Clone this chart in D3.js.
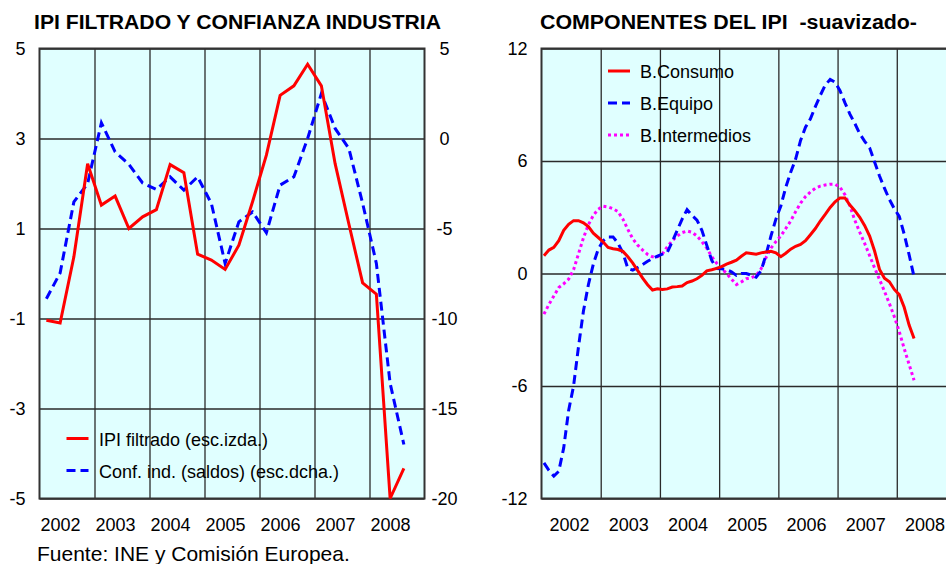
<!DOCTYPE html>
<html>
<head>
<meta charset="utf-8">
<script src="https://cdn.jsdelivr.net/npm/d3@7"></script>
<style>
  body { margin: 0; background: #fff; }
  svg { display: block; font-family: "Liberation Sans", Arial, sans-serif; }
  .tick line { stroke: #2a2a2a; stroke-width: 1.3; }
  .grid .domain { display: none; }
  .lbl .domain { display: none; }
  .lbl text { font-size: 18px; fill: #000; }
</style>
</head>
<body>
<div id="chart"></div>
<script>
// ---- data ----
var years = ["2002", "2003", "2004", "2005", "2006", "2007", "2008"];

// quarterly, 2002 Q1 .. 2008 Q3
var ipiFiltrado = [-1.04, -1.1, 0.37, 2.44, 1.52, 1.72, 1.0, 1.26, 1.42, 2.42, 2.24, 0.43, 0.3, 0.09,
                   0.63, 1.6, 2.63, 3.96, 4.17, 4.65, 4.17, 2.44, 1.1, -0.21, -0.46, -5.0, -4.33];
var confInd = [-8.9, -7.47, -3.52, -2.5, 0.87, -0.74, -1.43, -2.47, -2.83, -2.13, -2.87, -2.13, -3.61, -6.94,
               -4.63, -4.08, -5.24, -2.59, -2.13, 0.0, 2.5, 0.56, -0.56, -3.6, -6.94, -13.6, -17.0];

// monthly, Jan 2002 .. Apr 2008
var bConsumo = [0.95, 1.25, 1.39, 1.75, 2.3, 2.62, 2.82, 2.82, 2.7, 2.5, 2.15, 1.92,
                1.68, 1.39, 1.32, 1.28, 1.18, 0.89, 0.55, 0.15, -0.25, -0.6, -0.88, -0.82,
                -0.85, -0.82, -0.72, -0.7, -0.67, -0.48, -0.4, -0.28, -0.1, 0.14, 0.2, 0.27,
                0.37, 0.5, 0.6, 0.71, 0.92, 1.1, 1.07, 1.03, 1.1, 1.15, 1.18, 1.1,
                0.9, 1.08, 1.3, 1.45, 1.55, 1.75, 2.07, 2.4, 2.8, 3.15, 3.52, 3.82,
                4.03, 4.03, 3.65, 3.35, 3.0, 2.55, 2.0, 1.2, 0.22, -0.25, -0.44, -0.85,
                -1.13, -1.8, -2.75, -3.47];
var bEquipo = [-10.1, -10.5, -10.8, -10.55, -9.3, -7.3, -6.0, -3.9, -2.0, -0.6, 0.5, 1.3,
               1.75, 1.95, 1.95, 1.62, 1.1, 0.27, 0.18, 0.32, 0.48, 0.65, 0.8, 0.93,
               1.03, 1.14, 1.7, 2.3, 2.9, 3.41, 3.1, 2.85, 2.3, 1.5, 0.7, 0.27,
               0.25, 0.2, 0.09, -0.1, 0.0, 0.0, -0.09, -0.2, 0.15, 1.0, 2.0, 2.9,
               3.6, 4.6, 5.4, 6.1, 7.1, 7.8, 8.25, 8.9, 9.5, 10.05, 10.35, 10.2,
               9.75, 9.1, 8.5, 8.0, 7.45, 7.05, 6.7, 5.95, 5.2, 4.55, 3.95, 3.45,
               3.05, 2.1, 1.0, -0.18];
var bIntermedios = [-2.17, -1.65, -1.2, -0.75, -0.55, -0.3, 0.2, 1.05, 1.9, 2.6, 3.1, 3.43,
                    3.59, 3.55, 3.45, 3.3, 2.9, 2.35, 1.85, 1.51, 1.25, 1.02, 0.89, 0.89,
                    1.05, 1.43, 1.75, 2.0, 2.18, 2.27, 2.2, 2.0, 1.7, 1.35, 0.9, 0.55,
                    0.27, 0.0, -0.3, -0.59, -0.45, -0.28, -0.23, -0.1, 0.25, 0.85, 1.35, 1.7,
                    2.0, 2.4, 2.8, 3.3, 3.75, 4.1, 4.35, 4.55, 4.66, 4.72, 4.76, 4.76,
                    4.6, 4.2, 3.6, 2.84, 2.2, 1.6, 0.95, 0.3, -0.32, -0.95, -1.6, -2.3,
                    -3.1, -4.0, -4.85, -5.69];

var leftTicks = [5, 3, 1, -1, -3, -5];
var rightTicks = [5, 0, -5, -10, -15, -20];
var compTicks = [12, 6, 0, -6, -12];

var RED = "#ff0000", BLUE = "#0000ff", MAG = "#ff00ff", BG = "#e0ffff";

// plain hyphen for negatives, like the original
var fmt = function (d) { return String(d); };

var svg = d3.select("#chart").append("svg")
    .attr("width", 946)
    .attr("height", 564);

// titles
svg.append("text").attr("x", 34).attr("y", 29)
    .attr("font-size", 20).attr("font-weight", "bold")
    .attr("textLength", 407).attr("lengthAdjust", "spacingAndGlyphs")
    .text("IPI FILTRADO Y CONFIANZA INDUSTRIA");
svg.append("text").attr("x", 540).attr("y", 29)
    .attr("font-size", 20).attr("font-weight", "bold")
    .attr("textLength", 377).attr("lengthAdjust", "spacingAndGlyphs")
    .text("COMPONENTES DEL IPI \u00a0-suavizado-");

// ================= left chart =================
var L = {x0: 39.5, x1: 424.5, y0: 48.5, y1: 498.5};
var xL = d3.scaleLinear().domain([0, years.length * 4]).range([L.x0, L.x1]);
var yL = d3.scaleLinear().domain([-5, 5]).range([L.y1, L.y0]);
var yR = d3.scaleLinear().domain([-20, 5]).range([L.y1, L.y0]);

svg.append("rect")
    .attr("x", L.x0).attr("y", L.y0)
    .attr("width", L.x1 - L.x0).attr("height", L.y1 - L.y0)
    .attr("fill", BG);

// gridlines
svg.append("g").attr("class", "grid")
    .attr("transform", "translate(" + L.x0 + ",0)")
    .call(d3.axisLeft(yL).tickValues(leftTicks).tickSize(-(L.x1 - L.x0)).tickFormat(""));
svg.append("g").attr("class", "grid")
    .attr("transform", "translate(0," + L.y1 + ")")
    .call(d3.axisBottom(xL).tickValues(d3.range(4, years.length * 4, 4))
        .tickSize(-(L.y1 - L.y0)).tickFormat(""));

svg.append("rect")
    .attr("x", L.x0).attr("y", L.y0)
    .attr("width", L.x1 - L.x0).attr("height", L.y1 - L.y0)
    .attr("fill", "none").attr("stroke", "#333").attr("stroke-width", 2);

// axis labels
svg.append("g").attr("class", "lbl")
    .attr("transform", "translate(" + L.x0 + ",0)")
    .call(d3.axisLeft(yL).tickValues(leftTicks).tickSize(0).tickPadding(14).tickFormat(fmt));
svg.append("g").attr("class", "lbl")
    .attr("transform", "translate(" + L.x1 + ",0)")
    .call(d3.axisRight(yR).tickValues(rightTicks).tickSize(0).tickPadding(20).tickFormat(fmt))
    .selectAll("text").attr("text-anchor", "middle");
svg.append("g").attr("class", "lbl")
    .attr("transform", "translate(-7," + L.y1 + ")")
    .call(d3.axisBottom(xL).tickValues(years.map(function (d, i) { return i * 4 + 2; }))
        .tickSize(0).tickPadding(20)
        .tickFormat(function (d) { return years[(d - 2) / 4]; }));

var lineL = d3.line()
    .x(function (d, i) { return xL(i + 0.5); })
    .y(function (d) { return yL(d); });
var lineR = d3.line()
    .x(function (d, i) { return xL(i + 0.5); })
    .y(function (d) { return yR(d); });

svg.append("path").datum(confInd)
    .attr("fill", "none").attr("stroke", BLUE).attr("stroke-width", 3)
    .attr("stroke-dasharray", "9,5")
    .attr("d", lineR);
svg.append("path").datum(ipiFiltrado)
    .attr("fill", "none").attr("stroke", RED).attr("stroke-width", 3)
    .attr("stroke-linejoin", "miter")
    .attr("d", lineL);

// left legend
var legL = [
    {name: "IPI filtrado (esc.izda.)", color: RED, dash: null, y: 438.5},
    {name: "Conf. ind. (saldos) (esc.dcha.)", color: BLUE, dash: "9,5", y: 470.5}
];
legL.forEach(function (d) {
    svg.append("line")
        .attr("x1", 66.5).attr("x2", 88.5).attr("y1", d.y).attr("y2", d.y)
        .attr("stroke", d.color).attr("stroke-width", 3)
        .attr("stroke-dasharray", d.dash);
    svg.append("text").attr("x", 99).attr("y", d.y + 7)
        .attr("font-size", 18).text(d.name);
});

// ================= right chart =================
var C = {x0: 541.5, x1: 956, y0: 48.5, y1: 498.5};
var xC = d3.scaleLinear().domain([0, years.length * 12]).range([C.x0, C.x1]);
var yC = d3.scaleLinear().domain([-12, 12]).range([C.y1, C.y0]);

svg.append("rect")
    .attr("x", C.x0).attr("y", C.y0)
    .attr("width", C.x1 - C.x0).attr("height", C.y1 - C.y0)
    .attr("fill", BG);

svg.append("g").attr("class", "grid")
    .attr("transform", "translate(" + C.x0 + ",0)")
    .call(d3.axisLeft(yC).tickValues(compTicks).tickSize(-(C.x1 - C.x0)).tickFormat(""));
svg.append("g").attr("class", "grid")
    .attr("transform", "translate(0," + C.y1 + ")")
    .call(d3.axisBottom(xC).tickValues(d3.range(12, years.length * 12, 12))
        .tickSize(-(C.y1 - C.y0)).tickFormat(""));

svg.append("rect")
    .attr("x", C.x0).attr("y", C.y0)
    .attr("width", C.x1 - C.x0).attr("height", C.y1 - C.y0)
    .attr("fill", "none").attr("stroke", "#333").attr("stroke-width", 2);

svg.append("g").attr("class", "lbl")
    .attr("transform", "translate(" + C.x0 + ",0)")
    .call(d3.axisLeft(yC).tickValues(compTicks).tickSize(0).tickPadding(14).tickFormat(fmt));
svg.append("g").attr("class", "lbl")
    .attr("transform", "translate(-2," + C.y1 + ")")
    .call(d3.axisBottom(xC).tickValues(years.map(function (d, i) { return i * 12 + 6; }))
        .tickSize(0).tickPadding(20)
        .tickFormat(function (d) { return years[(d - 6) / 12]; }));

var lineC = d3.line()
    .x(function (d, i) { return xC(i + 0.5); })
    .y(function (d) { return yC(d); });

var comps = [
    {name: "B.Consumo", values: bConsumo, color: RED, dash: null, y: 71},
    {name: "B.Equipo", values: bEquipo, color: BLUE, dash: "9,5", y: 103},
    {name: "B.Intermedios", values: bIntermedios, color: MAG, dash: "3,3", y: 135}
];

// draw order: magenta, blue, red on top
[comps[2], comps[1], comps[0]].forEach(function (s) {
    svg.append("path").datum(s.values)
        .attr("fill", "none").attr("stroke", s.color).attr("stroke-width", 3)
        .attr("stroke-dasharray", s.dash)
        .attr("d", lineC);
});

comps.forEach(function (s) {
    svg.append("line")
        .attr("x1", 608).attr("x2", 630).attr("y1", s.y).attr("y2", s.y)
        .attr("stroke", s.color).attr("stroke-width", 3)
        .attr("stroke-dasharray", s.dash);
    svg.append("text").attr("x", 640).attr("y", s.y + 6.5)
        .attr("font-size", 18).text(s.name);
});

// source
svg.append("text").attr("x", 37).attr("y", 561)
    .attr("font-size", 21).text("Fuente: INE y Comisión Europea.");
</script>
</body>
</html>
